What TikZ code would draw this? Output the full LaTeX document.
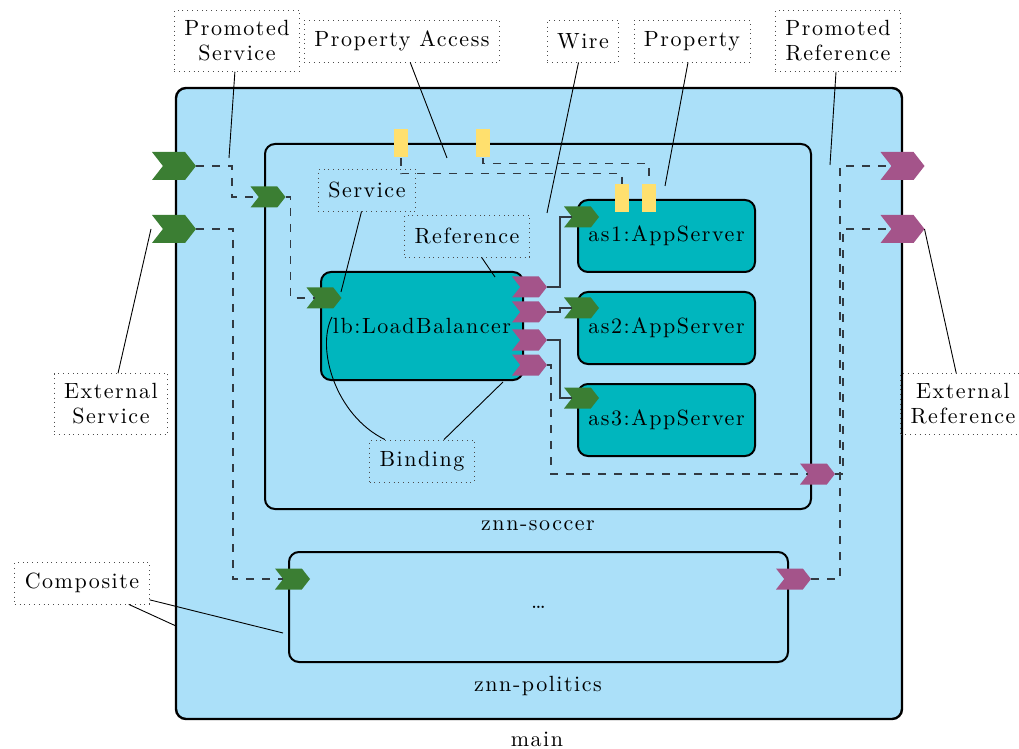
\documentclass[tikz,border=0pt]{standalone}
\usepackage{fontspec}
\setmainfont{Latin Modern Roman}[LetterSpace=7]
\usetikzlibrary{positioning,shapes.symbols}

\definecolor{compfill}{RGB}{171,224,249}
\definecolor{compteal}{RGB}{0,182,190}
\definecolor{srvgreen}{RGB}{59,126,51}
\definecolor{refpurple}{RGB}{164,84,138}
\definecolor{propyellow}{RGB}{255,224,110}
\definecolor{wiregray}{RGB}{50,58,66}

\tikzset{
	composite/.style={draw, line width=1pt, rounded corners=5pt, fill=compfill},
	component/.style={draw, line width=1pt, rounded corners=5pt, fill=compteal, minimum width=88.5pt, minimum height=36pt},
	port/.style={shape=signal, signal from=west, signal to=east, signal pointer angle=104, inner sep=0pt, outer sep=0pt},
	bigsrv/.style={port, fill=srvgreen, minimum width=22pt, minimum height=14pt},
	srv/.style={port, fill=srvgreen, minimum width=17.5pt, minimum height=10.5pt},
	bigref/.style={port, fill=refpurple, minimum width=22pt, minimum height=14pt},
	ref/.style={port, fill=refpurple, minimum width=17.5pt, minimum height=10.5pt},
	prop/.style={fill=propyellow, minimum width=7pt, minimum height=14pt, inner sep=0pt},
	note/.style={draw=black!70, dotted, align=center, inner xsep=5pt, inner ysep=5pt, minimum height=21pt},
	promote/.style={wiregray, line width=0.6pt, dash pattern=on 4pt off 4pt},
	wire/.style={wiregray, line width=0.6pt},
	leader/.style={black, line width=0.45pt}
}

\begin{document}
\begin{tikzpicture}[x=0.5pt, y=-0.5pt, font=\fontsize{11}{12.5}\selectfont]
			\useasboundingbox (0,0) rectangle (1019,749);

			% composites
			\node(main) [composite, line width=1.2pt, minimum width=363pt, minimum height=315.5pt] at (539,403.5) {};
			\node(soccer) [composite, minimum width=273pt, minimum height=182.5pt] at (538,326.5) {};
			\node(pol) [composite, minimum width=249.5pt, minimum height=55pt] at (538.5,607) {\dots};
			\node(mainL) at (537,739) {main};
			\node(soccerL) at (538,526) {znn-soccer};
			\node(polL) at (538,686) {znn-politics};

			% components
			\node(lb) [component, minimum width=101pt, minimum height=54pt] at (422,326) {lb:LoadBalancer};
			\node(as1) [component] at (666.5,236) {as1:AppServer};
			\node(as2) [component, below=9pt of as1] {as2:AppServer};
			\node(as3) [component, below=9pt of as2] {as3:AppServer};

			% services
			\node(mS1) [bigsrv] at (174,166) {};
			\node(mS2) [bigsrv] at (174,229) {};
			\node(sS) [srv] at (268,197) {};
			\node(lbS) [srv] at (324,298) {};
			\node(pS) [srv] at (292.5,579) {};
			\node(a1S) [srv] at (581.5,217) {};
			\node(a2S) [srv] at (581.5,308) {};
			\node(a3S) [srv] at (581.5,398) {};

			% references
			\node(lbR1) [ref] at (529.5,287) {};
			\node(lbR2) [ref] at (529.5,312) {};
			\node(lbR3) [ref] at (529.5,340) {};
			\node(lbR4) [ref] at (529.5,365) {};
			\node(sR) [ref] at (817.5,474) {};
			\node(pR) [ref] at (793.5,579) {};
			\node(mR1) [bigref] at (902.5,166) {};
			\node(mR2) [bigref] at (902.5,229) {};

			% properties
			\node(sP1) [prop] at (401,143.5) {};
			\node(sP2) [prop] at (483,143.5) {};
			\node(aP1) [prop] at (622,198) {};
			\node(aP2) [prop] at (649,198) {};

			\draw[promote] (mS1.east) -- ++(36,0) |- (sS.west);
			\draw[promote] (sS.east) -- ++(5,0) |- (lbS.west);
			\draw[promote] (mS2.east) -- ++(37,0) |- (pS.west);
			\draw[promote] (sP1.south) -- ++(0,16) -| (aP1.north);
			\draw[promote] (sP2.south) -- ++(0,6) -| (aP2.north);
			\draw[wire] (lbR1.east) -- ++(13,0) |- (a1S.west);
			\draw[wire] (lbR2.east) -- ++(13,0) |- (a2S.west);
			\draw[wire] (lbR3.east) -- ++(13,0) |- (a3S.west);
			\draw[promote] (lbR4.east) -- ++(4,0) |- (sR.west);
			\draw[promote] (sR.east) -- ++(8,0) |- (mR2.west);
			\draw[promote] (pR.east) -- ++(29,0) |- (mR1.west);

			% notes
			\node(psN) [note] at (237,41) {Promoted\\Service};
			\node(paN) [note] at (402,41) {Property Access};
			\node(wN) [note] at (583,41) {Wire};
			\node(pN) [note] at (692,41) {Property};
			\node(prN) [note] at (838,41) {Promoted\\Reference};
			\node(esN) [note] at (111,404) {External\\Service};
			\node(erN) [note] at (963,404) {External\\Reference};
			\node(svN) [note] at (367,190) {Service};
			\node(rfN) [note] at (467,236) {Reference};
			\node(bN) [note] at (422,461) {Binding};
			\node(cN) [note] at (82,583) {Composite};

			\coordinate(psT) at (229,158);
			\coordinate(paT) at (447,158);
			\coordinate(wT) at (547,213);
			\coordinate(pT) at (665,186);
			\coordinate(prT) at (830,165);
			\coordinate(esT) at (151,229);
			\coordinate(svT) at (341,292);
			\coordinate(rfT) at (495,277);
			\coordinate(bT1) at (332,317);
			\coordinate(bT2) at (503,382);
			\coordinate(cT1) at (176,626);
			\coordinate(cT2) at (283,633);

			\draw[leader] (psN) -- (psT);
			\draw[leader] (paN) -- (paT);
			\draw[leader] (wN) -- (wT);
			\draw[leader] (pN) -- (pT);
			\draw[leader] (prN) -- (prT);
			\draw[leader] (esN) -- (esT);
			\draw[leader] (erN) -- (mR2.east);
			\draw[leader] (svN) -- (svT);
			\draw[leader] (rfN) -- (rfT);
			\draw[leader] (bN.150) .. controls (335,415) and (316,348) .. (bT1);
			\draw[leader] (bN) -- (bT2);
			\draw[leader] (cN) -- (cT1);
			\draw[leader] (cN) -- (cT2);
		\end{tikzpicture}
\end{document}
